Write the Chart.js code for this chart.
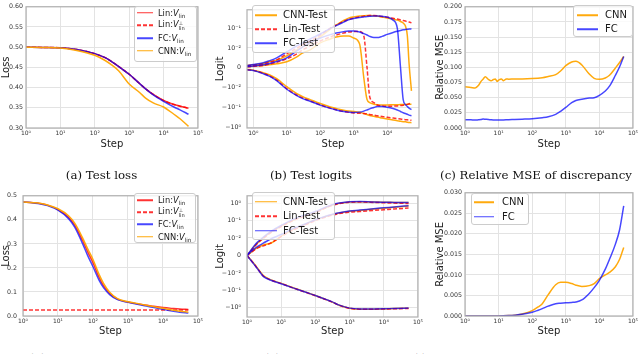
<!DOCTYPE html>
<html><head><meta charset="utf-8">
<script src="https://cdn.jsdelivr.net/npm/chart.js@4.4.1/dist/chart.umd.min.js"></script>
<style>
html,body{margin:0;padding:0;background:#fff}
body{width:640px;height:354px;overflow:hidden;position:relative;font-family:"DejaVu Sans",sans-serif}
.pn{position:absolute}
.pn canvas{display:block}
.leg{position:absolute;box-sizing:border-box;background:rgba(255,255,255,0.8);border:1px solid #cccccc;border-radius:3px}
.leg .ln{position:absolute;height:1.5px;transform:translateY(-50%)}
.leg .tx{position:absolute;white-space:nowrap;line-height:1;color:#1a1a1a;transform:translateY(-50%);font-family:"DejaVu Sans",sans-serif}
.tx sub{font-size:68%;line-height:0;vertical-align:-0.3em}
.ss{display:inline-block;vertical-align:-0.45em;font-size:62%;line-height:0.95}
.ss span{display:block}
.cap{position:absolute;white-space:nowrap;font-family:"DejaVu Serif",serif;font-size:11.8px;line-height:1;color:#111;transform:translate(-50%,-50%)}
</style></head><body>
<div class="pn" style="left:0;top:0"><canvas id="ca" width="205" height="152"></canvas></div>
<div class="pn" style="left:210px;top:0"><canvas id="cb" width="215" height="152"></canvas></div>
<div class="pn" style="left:425px;top:0"><canvas id="cc" width="215" height="152"></canvas></div>
<div class="pn" style="left:0;top:186px"><canvas id="cd" width="205" height="152"></canvas></div>
<div class="pn" style="left:210px;top:186px"><canvas id="ce" width="215" height="152"></canvas></div>
<div class="pn" style="left:425px;top:186px"><canvas id="cf" width="215" height="152"></canvas></div>
<script>
// ================= DATA =================
const xDecadeTicks = [1, 10, 100, 1000, 10000, 100000];
const xDecadeLabels = ['10⁰', '10¹', '10²', '10³', '10⁴', '10⁵'];

// (a) Test loss
const stepsA = [1, 3, 10, 30, 100, 200, 300, 500, 1000, 2000, 3000, 5000, 10000, 20000, 30000, 53000];
const lossLinA     = [0.500, 0.4995, 0.4985, 0.494, 0.484, 0.474, 0.465, 0.452, 0.433, 0.410, 0.397, 0.383, 0.368, 0.358, 0.354, 0.349];
const lossLinPerpA = [0.500, 0.4995, 0.4985, 0.494, 0.484, 0.474, 0.465, 0.452, 0.433, 0.410, 0.397, 0.383, 0.368, 0.358, 0.354, 0.349];
const lossFCA      = [0.500, 0.4995, 0.4985, 0.494, 0.484, 0.474, 0.465, 0.452, 0.433, 0.410, 0.397, 0.382, 0.366, 0.352, 0.345, 0.334];
const lossCNNA     = [0.500, 0.4995, 0.498, 0.492, 0.480, 0.467, 0.457, 0.441, 0.409, 0.388, 0.374, 0.362, 0.352, 0.334, 0.323, 0.304];
const lossTicksA = [0.30, 0.35, 0.40, 0.45, 0.50, 0.55, 0.60];
const lossTickLabelsA = ['0.30', '0.35', '0.40', '0.45', '0.50', '0.55', '0.60'];
const lossNames = ['Lin:V_lin', 'Lin:V_lin^⊥', 'FC:V_lin', 'CNN:V_lin'];

// (b) Test logits (three test points per model)
const stepsB = [0.65, 1, 2, 3, 5, 10, 20, 30, 50, 100, 200, 300, 500, 700, 1000, 1500, 2000, 2500, 3000, 4000, 5000, 7000, 10000, 15000, 20000, 25000, 30000, 35000, 40000, 45000, 53000];
const logitCNN1 = [0.0011, 0.0015, 0.0022, 0.003, 0.0038, 0.006, 0.009, 0.0112, 0.0178, 0.0355, 0.089, 0.141, 0.24, 0.316, 0.363, 0.40, 0.417, 0.427, 0.427, 0.417, 0.40, 0.355, 0.316, 0.282, 0.251, 0.214, 0.178, 0.126, 0.04, 0.002, -0.0145];
const logitCNN2 = [0.0005, 0.0008, 0.0012, 0.0015, 0.002, 0.003, 0.0055, 0.0075, 0.009, 0.0178, 0.0282, 0.0355, 0.04, 0.04, 0.0316, 0.0158, -0.005, -0.0398, -0.0562, -0.0676, -0.0724, -0.0741, -0.0741, -0.0724, -0.0724, -0.0708, -0.0708, -0.0708, -0.0692, -0.0692, -0.0692];
const logitCNN3 = [-0.0008, -0.0012, -0.0025, -0.0035, -0.0055, -0.0095, -0.02, -0.0282, -0.0398, -0.0631, -0.0933, -0.112, -0.138, -0.151, -0.158, -0.174, -0.2, -0.224, -0.251, -0.275, -0.302, -0.339, -0.38, -0.427, -0.457, -0.49, -0.513, -0.525, -0.55, -0.562, -0.575];
const logitLin1 = [0.001, 0.0013, 0.002, 0.0028, 0.004, 0.007, 0.01, 0.0141, 0.0224, 0.0447, 0.1, 0.141, 0.214, 0.269, 0.316, 0.363, 0.398, 0.417, 0.427, 0.427, 0.417, 0.38, 0.347, 0.309, 0.282, 0.257, 0.24, 0.224, 0.209, 0.2, 0.186];
const logitLin2 = [0.0005, 0.0007, 0.0012, 0.0018, 0.0028, 0.0045, 0.007, 0.009, 0.0126, 0.0224, 0.0355, 0.0447, 0.0562, 0.0631, 0.0661, 0.0661, 0.0398, 0, -0.0282, -0.0562, -0.0741, -0.0832, -0.0871, -0.0851, -0.0832, -0.0794, -0.0759, -0.0724, -0.0692, -0.0646, -0.0617];
const logitLin3 = [-0.001, -0.0013, -0.0028, -0.004, -0.0062, -0.0112, -0.024, -0.0331, -0.0468, -0.0741, -0.107, -0.129, -0.158, -0.174, -0.186, -0.195, -0.2, -0.209, -0.224, -0.24, -0.257, -0.282, -0.309, -0.339, -0.363, -0.38, -0.398, -0.407, -0.417, -0.427, -0.437];
const logitFC1 = [0.0012, 0.0016, 0.0025, 0.0035, 0.005, 0.008, 0.0126, 0.0178, 0.0282, 0.05, 0.0955, 0.132, 0.2, 0.263, 0.302, 0.339, 0.363, 0.38, 0.389, 0.398, 0.398, 0.389, 0.355, 0.251, 0.1, 0, -0.04, -0.0708, -0.0891, -0.107, -0.126];
const logitFC2 = [0.0006, 0.0009, 0.0015, 0.0022, 0.0032, 0.005, 0.0085, 0.0112, 0.0191, 0.0316, 0.0468, 0.0562, 0.0661, 0.0708, 0.0708, 0.0631, 0.0525, 0.0447, 0.038, 0.0331, 0.0331, 0.038, 0.0479, 0.0603, 0.0692, 0.0759, 0.0813, 0.0851, 0.0871, 0.0891, 0.0912];
const logitFC3 = [-0.001, -0.0014, -0.003, -0.0042, -0.0065, -0.012, -0.0251, -0.0355, -0.0479, -0.0759, -0.11, -0.132, -0.158, -0.17, -0.178, -0.17, -0.151, -0.132, -0.117, -0.1, -0.0891, -0.0891, -0.0955, -0.112, -0.132, -0.158, -0.182, -0.2, -0.219, -0.24, -0.257];
const logitTicks = [-1, -0.1, -0.01, 0, 0.01, 0.1, 1];
const logitTickLabels = ['−10⁰', '−10⁻¹', '−10⁻²', '0', '10⁻²', '10⁻¹', '10⁰'];
const logitNames = ['CNN-Test', 'Lin-Test', 'FC-Test'];

// (c) Relative MSE of discrepancy
const stepsC = [1, 1.5, 2, 2.5, 3, 3.5, 4, 5, 6, 7, 8, 9, 10, 12, 14, 17, 20, 30, 50, 100, 200, 300, 500, 700, 1000, 1500, 2000, 3000, 5000, 7000, 10000, 15000, 20000, 30000, 40000, 53000];
const mseCNNC = [0.068, 0.067, 0.066, 0.070, 0.077, 0.081, 0.0845, 0.080, 0.078, 0.080, 0.081, 0.077, 0.079, 0.081, 0.078, 0.081, 0.0805, 0.081, 0.081, 0.0815, 0.083, 0.085, 0.088, 0.094, 0.103, 0.109, 0.110, 0.104, 0.089, 0.082, 0.0804, 0.0825, 0.087, 0.099, 0.108, 0.118];
const mseFCC  = [0.0138, 0.0135, 0.013, 0.0135, 0.014, 0.0148, 0.0145, 0.014, 0.0135, 0.0132, 0.013, 0.013, 0.013, 0.0132, 0.0133, 0.0135, 0.0137, 0.014, 0.0145, 0.0153, 0.017, 0.0185, 0.0225, 0.0275, 0.034, 0.042, 0.0455, 0.0475, 0.0493, 0.050, 0.054, 0.061, 0.069, 0.087, 0.101, 0.118];
const mseTicksC = [0, 0.025, 0.05, 0.075, 0.1, 0.125, 0.15, 0.175, 0.2];
const mseTickLabelsC = ['0.000', '0.025', '0.050', '0.075', '0.100', '0.125', '0.150', '0.175', '0.200'];
const mseNames = ['CNN', 'FC'];

// (d) loss, second setting
const stepsD = [1, 2, 3, 5, 10, 20, 30, 50, 70, 100, 150, 200, 300, 500, 1000, 2000, 3000, 5000, 10000, 20000, 30000, 53000];
const lossLinD     = [0.474, 0.471, 0.468, 0.461, 0.443, 0.411, 0.378, 0.315, 0.268, 0.222, 0.160, 0.126, 0.094, 0.070, 0.058, 0.050, 0.046, 0.041, 0.035, 0.031, 0.029, 0.027];
const lossLinPerpD = [0.025, 0.025, 0.025, 0.025, 0.025, 0.025, 0.025, 0.025, 0.025, 0.025, 0.025, 0.025, 0.025, 0.025, 0.025, 0.025, 0.025, 0.025, 0.025, 0.025, 0.025, 0.025];
const lossFCD      = [0.474, 0.470, 0.467, 0.459, 0.440, 0.405, 0.370, 0.302, 0.252, 0.205, 0.148, 0.118, 0.089, 0.068, 0.057, 0.048, 0.043, 0.036, 0.028, 0.020, 0.016, 0.012];
const lossCNND     = [0.474, 0.471, 0.469, 0.462, 0.446, 0.417, 0.386, 0.326, 0.280, 0.235, 0.172, 0.136, 0.099, 0.072, 0.059, 0.051, 0.046, 0.040, 0.032, 0.024, 0.020, 0.016];
const lossTicksD = [0, 0.1, 0.2, 0.3, 0.4, 0.5];
const lossTickLabelsD = ['0.0', '0.1', '0.2', '0.3', '0.4', '0.5'];

// (e) logits, second setting
const stepsE = [1, 1.7, 2, 3, 5, 10, 20, 30, 50, 100, 200, 300, 500, 1000, 2000, 5000, 10000, 20000, 53000];
const logitCNN1E = [0, 0.0055, 0.007, 0.01, 0.0214, 0.0479, 0.0955, 0.135, 0.191, 0.302, 0.55, 0.759, 0.977, 1.17, 1.2, 1.15, 1.12, 1.1, 1.07];
const logitCNN2E = [0, 0.0035, 0.0045, 0.006, 0.007, 0.0126, 0.0282, 0.0398, 0.0603, 0.107, 0.17, 0.214, 0.269, 0.339, 0.38, 0.457, 0.513, 0.575, 0.676];
const logitCNN3E = [0, -0.0053, -0.0072, -0.0141, -0.0251, -0.0398, -0.0661, -0.0871, -0.123, -0.2, -0.331, -0.457, -0.724, -1.07, -1.2, -1.2, -1.17, -1.12, -1.07];
const logitLin1E = [0, 0.0052, 0.0068, 0.0098, 0.02, 0.0457, 0.0912, 0.129, 0.182, 0.288, 0.525, 0.724, 0.933, 1.12, 1.15, 1.1, 1.05, 1.0, 0.955];
const logitLin2E = [0, 0.0033, 0.0042, 0.0055, 0.0072, 0.012, 0.0263, 0.0372, 0.0562, 0.1, 0.158, 0.2, 0.251, 0.302, 0.331, 0.38, 0.417, 0.457, 0.525];
const logitLin3E = [0, -0.0055, -0.0074, -0.0151, -0.0257, -0.0407, -0.0676, -0.0891, -0.126, -0.204, -0.339, -0.457, -0.724, -1.07, -1.2, -1.2, -1.17, -1.15, -1.1];
const logitFC1E = [0, 0.006, 0.0075, 0.0112, 0.024, 0.0525, 0.105, 0.148, 0.209, 0.331, 0.589, 0.794, 1.0, 1.2, 1.23, 1.15, 1.12, 1.1, 1.07];
const logitFC2E = [0, 0.004, 0.005, 0.007, 0.0095, 0.0158, 0.0316, 0.0427, 0.0631, 0.112, 0.178, 0.224, 0.282, 0.355, 0.398, 0.479, 0.537, 0.603, 0.708];
const logitFC3E = [0, -0.0057, -0.0075, -0.0158, -0.0263, -0.0417, -0.0676, -0.0891, -0.126, -0.2, -0.331, -0.447, -0.708, -1.05, -1.17, -1.17, -1.15, -1.1, -1.05];

// (f) relative MSE, second setting
const stepsF = [1, 10, 20, 30, 50, 100, 150, 200, 300, 500, 700, 1000, 1500, 2000, 3000, 5000, 7000, 10000, 15000, 20000, 30000, 40000, 53000];
const mseCNNF = [0, 0.00002, 0.0001, 0.0002, 0.0005, 0.0013, 0.0022, 0.003, 0.0052, 0.0076, 0.0082, 0.0082, 0.0079, 0.0075, 0.0072, 0.0074, 0.0079, 0.0091, 0.0100, 0.0106, 0.012, 0.0138, 0.0167];
const mseFCF  = [0, 0.00002, 0.0001, 0.0002, 0.0004, 0.0009, 0.0014, 0.0018, 0.0024, 0.003, 0.0031, 0.0032, 0.0033, 0.0034, 0.0039, 0.0055, 0.0069, 0.0087, 0.0114, 0.0138, 0.0175, 0.021, 0.0268];
const mseTicksF = [0, 0.005, 0.01, 0.015, 0.02, 0.025, 0.03];
const mseTickLabelsF = ['0.000', '0.005', '0.010', '0.015', '0.020', '0.025', '0.030'];

const captionTexts = ['(a) Test loss', '(b) Test logits', '(c) Relative MSE of discrepancy', '(d) Test loss', '(e) Test logits', '(f) Relative MSE of discrepancy'];

// ================= STYLE / HELPERS =================
const F = 'DejaVu Sans';
const GRID = '#e3e3e3', FRAME = '#b0b0b0';
const RED = 'rgba(255,0,0,0.8)', BLUE = 'rgba(0,0,255,0.72)', ORANGE = 'rgba(255,165,0,0.95)';
const DASH = [4, 2];

// symmetric-log scale (linear within ±0.01)
const LT = 0.01;
function symF(v) { const a = Math.abs(v); return a <= LT ? v / LT : Math.sign(v) * (1 + Math.log10(a / LT)); }
function symInv(f) { const a = Math.abs(f); return a <= 1 ? f * LT : Math.sign(f) * LT * Math.pow(10, a - 1); }
class SymlogScale extends Chart.Scale {
  static id = 'symlog';
  static defaults = {};
  parse(raw) { return (raw === null || raw === undefined) ? null : +raw; }
  determineDataLimits() { this.min = this.options.min; this.max = this.options.max; }
  buildTicks() {
    const tv = this.options.tickValues || [];
    return tv.filter(v => v >= this.min && v <= this.max).map(v => ({ value: v }));
  }
  getLabelForValue(v) { return String(v); }
  configure() { super.configure(); this._f0 = symF(this.min); this._fr = symF(this.max) - this._f0; }
  getPixelForValue(v) { if (v === null || v === undefined || isNaN(v)) return NaN; return this.getPixelForDecimal((symF(v) - this._f0) / this._fr); }
  getValueForPixel(p) { return symInv(this.getDecimalForPixel(p) * this._fr + this._f0); }
}
Chart.register(SymlogScale);

const framePlugin = {
  id: 'frame',
  afterDraw(chart) {
    const { ctx, chartArea: a } = chart;
    ctx.save(); ctx.strokeStyle = FRAME; ctx.lineWidth = 1.2;
    ctx.strokeRect(a.left, a.top, a.right - a.left, a.bottom - a.top);
    ctx.restore();
  }
};

function ds(label, xs, ys, color, dash, order) {
  return {
    label, data: xs.map((x, i) => ({ x, y: ys[i] })),
    borderColor: color, borderWidth: 1.5, borderDash: dash || [],
    pointRadius: 0, fill: false, cubicInterpolationMode: 'monotone', order
  };
}

function makeChart(id, datasets, p) {
  const yScale = p.symlog ? {
    type: 'symlog', min: p.yMin, max: p.yMax, tickValues: p.yTicks,
    ticks: { callback: (v) => p.yLabels[p.yTicks.indexOf(v)] }
  } : {
    type: 'linear', min: p.yMin, max: p.yMax,
    afterBuildTicks: s => { s.ticks = p.yTicks.map(v => ({ value: v })); },
    ticks: { callback: (v, i) => p.yLabels[i] }
  };
  Object.assign(yScale, {
    afterFit: s => { s.width = p.yW; },
    grid: { color: GRID, lineWidth: 1, drawTicks: false },
    border: { display: false },
    title: { display: true, text: p.yTitle, font: { family: F, size: 10 }, color: '#222', padding: { top: p.yTitlePad, bottom: 0 } }
  });
  Object.assign(yScale.ticks, { autoSkip: false, padding: p.yTickPad, font: { family: F, size: 6.3 }, color: '#333' });
  const n = datasets.length;
  datasets.forEach((d, i) => { if (d.order === undefined) d.order = n - i; });
  return new Chart(document.getElementById(id), {
    type: 'line',
    data: { datasets },
    options: {
      responsive: false, animation: false, devicePixelRatio: 1, events: [],
      layout: { padding: { left: 0, right: p.padR, top: p.padT, bottom: 0 } },
      plugins: { legend: { display: false }, tooltip: { enabled: false } },
      scales: {
        x: {
          type: 'logarithmic', min: p.xMin, max: p.xMax,
          afterBuildTicks: s => { s.ticks = xDecadeTicks.filter(v => v >= s.min * 0.999 && v <= s.max * 1.001).map(v => ({ value: v })); },
          afterFit: s => { s.height = p.xH; },
          ticks: { autoSkip: false, maxRotation: 0, padding: 2, font: { family: F, size: 6 }, color: '#333',
                   callback: v => xDecadeLabels[xDecadeTicks.indexOf(v)] || '' },
          grid: { color: GRID, lineWidth: 1, drawTicks: false },
          border: { display: false },
          title: { display: true, text: 'Step', font: { family: F, size: 10 }, color: '#222', padding: { top: 0, bottom: p.xTitlePad } }
        },
        y: yScale
      }
    },
    plugins: [framePlugin]
  });
}

// ================= CHARTS =================
makeChart('ca', [
  ds(lossNames[0], stepsA, lossLinA, RED),
  ds(lossNames[1], stepsA, lossLinPerpA, RED, DASH),
  ds(lossNames[2], stepsA, lossFCA, BLUE),
  ds(lossNames[3], stepsA, lossCNNA, ORANGE)
], { xMin: 1, xMax: 1e5, yMin: 0.30, yMax: 0.60, yTicks: lossTicksA, yLabels: lossTickLabelsA, yTitle: 'Loss',
     yW: 26, padR: 6, padT: 1, xH: 24, xTitlePad: 2, yTitlePad: 0, yTickPad: 3 });

makeChart('cb', [
  ds(logitNames[0], stepsB, logitCNN1, ORANGE), ds(logitNames[0], stepsB, logitCNN2, ORANGE), ds(logitNames[0], stepsB, logitCNN3, ORANGE),
  ds(logitNames[1], stepsB, logitLin1, RED, DASH), ds(logitNames[1], stepsB, logitLin2, RED, DASH), ds(logitNames[1], stepsB, logitLin3, RED, DASH),
  ds(logitNames[2], stepsB, logitFC1, BLUE), ds(logitNames[2], stepsB, logitFC2, BLUE), ds(logitNames[2], stepsB, logitFC3, BLUE)
], { xMin: 0.65, xMax: 89000, symlog: true, yMin: -1.07, yMax: 0.83, yTicks: logitTicks, yLabels: logitTickLabels, yTitle: 'Logit',
     yW: 37, padR: 6, padT: 0, xH: 24, xTitlePad: 2, yTitlePad: 4, yTickPad: 6 });

makeChart('cc', [
  ds(mseNames[0], stepsC, mseCNNC, ORANGE),
  ds(mseNames[1], stepsC, mseFCC, BLUE)
], { xMin: 1, xMax: 1e5, yMin: 0, yMax: 0.2, yTicks: mseTicksC, yLabels: mseTickLabelsC, yTitle: 'Relative MSE',
     yW: 40, padR: 4, padT: 1, xH: 24, xTitlePad: 2, yTitlePad: 9, yTickPad: 3 });

makeChart('cd', [
  ds(lossNames[0], stepsD, lossLinD, RED),
  ds(lossNames[1], stepsD, lossLinPerpD, RED, DASH),
  ds(lossNames[2], stepsD, lossFCD, BLUE),
  ds(lossNames[3], stepsD, lossCNND, ORANGE)
], { xMin: 1, xMax: 1e5, yMin: 0, yMax: 0.5, yTicks: lossTicksD, yLabels: lossTickLabelsD, yTitle: 'Loss',
     yW: 23, padR: 6, padT: 3, xH: 22, xTitlePad: 0.5, yTitlePad: 0, yTickPad: 6 });

makeChart('ce', [
  ds(logitNames[0], stepsE, logitCNN1E, ORANGE), ds(logitNames[0], stepsE, logitCNN2E, ORANGE), ds(logitNames[0], stepsE, logitCNN3E, ORANGE),
  ds(logitNames[1], stepsE, logitLin1E, RED, DASH), ds(logitNames[1], stepsE, logitLin2E, RED, DASH), ds(logitNames[1], stepsE, logitLin3E, RED, DASH),
  ds(logitNames[2], stepsE, logitFC1E, BLUE), ds(logitNames[2], stepsE, logitFC2E, BLUE), ds(logitNames[2], stepsE, logitFC3E, BLUE)
], { xMin: 1, xMax: 1e5, symlog: true, yMin: -3.39, yMax: 2.63, yTicks: logitTicks, yLabels: logitTickLabels, yTitle: 'Logit',
     yW: 37, padR: 6, padT: 1, xH: 21, xTitlePad: 0.5, yTitlePad: 4, yTickPad: 6 });

makeChart('cf', [
  ds(mseNames[0], stepsF, mseCNNF, ORANGE),
  ds(mseNames[1], stepsF, mseFCF, BLUE)
], { xMin: 1, xMax: 1e5, yMin: 0, yMax: 0.03, yTicks: mseTicksF, yLabels: mseTickLabelsF, yTitle: 'Relative MSE',
     yW: 40, padR: 4, padT: 3, xH: 22, xTitlePad: 0.5, yTitlePad: 9, yTickPad: 3 });

// ================= LEGENDS (HTML overlays) =================
function fmtLabel(s) {
  return s.replace('V_lin^⊥', '<i>V</i><span class="ss"><span>⊥</span><span>lin</span></span>')
          .replace('V_lin', '<i>V</i><sub>lin</sub>');
}
function legend(L) {
  const box = document.createElement('div');
  box.className = 'leg';
  Object.assign(box.style, { left: L.left + 'px', top: L.top + 'px', width: L.w + 'px', height: L.h + 'px' });
  L.items.forEach((it, i) => {
    const y = L.row0 + i * L.dy - L.top;
    const ln = document.createElement('div');
    ln.className = 'ln';
    ln.style.left = (L.lx - L.left - 1) + 'px';
    ln.style.top = (y - 1) + 'px';
    ln.style.width = L.lw + 'px';
    ln.style.background = it.dash ? `repeating-linear-gradient(90deg, ${it.color} 0 4px, transparent 4px 6px)` : it.color;
    box.appendChild(ln);
    const tx = document.createElement('div');
    tx.className = 'tx';
    tx.style.left = (L.tx - L.left - 1) + 'px';
    tx.style.top = (y - 1) + 'px';
    tx.style.fontSize = L.fs + 'px';
    tx.innerHTML = fmtLabel(it.label);
    box.appendChild(tx);
  });
  document.body.appendChild(box);
}
const lossItems = [
  { label: lossNames[0], color: RED }, { label: lossNames[1], color: RED, dash: true },
  { label: lossNames[2], color: BLUE }, { label: lossNames[3], color: ORANGE }
];
const logitItems = [
  { label: logitNames[0], color: ORANGE }, { label: logitNames[1], color: RED, dash: true }, { label: logitNames[2], color: BLUE }
];
const mseItems = [{ label: mseNames[0], color: ORANGE }, { label: mseNames[1], color: BLUE }];

legend({ left: 134, top: 6, w: 63, h: 56, row0: 12.7, dy: 12.7, lx: 137, lw: 16, tx: 158, fs: 8.3, items: lossItems });
legend({ left: 134, top: 193, w: 62, h: 50, row0: 200, dy: 12.2, lx: 137, lw: 16, tx: 158, fs: 8.3, items: lossItems });
legend({ left: 252, top: 5, w: 83, h: 48, row0: 15, dy: 14.2, lx: 255, lw: 22, tx: 283, fs: 10, items: logitItems });
legend({ left: 252, top: 192, w: 83, h: 48, row0: 201.7, dy: 14.5, lx: 255, lw: 22, tx: 283, fs: 10, items: logitItems });
legend({ left: 573, top: 5, w: 60, h: 32, row0: 15, dy: 14.3, lx: 577, lw: 21, tx: 605, fs: 10, items: mseItems });
legend({ left: 471, top: 193, w: 58, h: 32, row0: 202.3, dy: 14.4, lx: 474, lw: 20, tx: 502, fs: 10, items: mseItems });

// ================= CAPTIONS =================
const capPos = [
  { cx: 101.5, cy: 176 }, { cx: 311, cy: 176 }, { cx: 536, cy: 176 },
  { cx: 65, cy: 359 }, { cx: 305, cy: 359 }, { cx: 508, cy: 359 }
];
captionTexts.forEach((t, i) => {
  const d = document.createElement('div');
  d.className = 'cap'; d.textContent = t;
  d.style.left = capPos[i].cx + 'px'; d.style.top = capPos[i].cy + 'px';
  document.body.appendChild(d);
});
</script>
</body></html>
